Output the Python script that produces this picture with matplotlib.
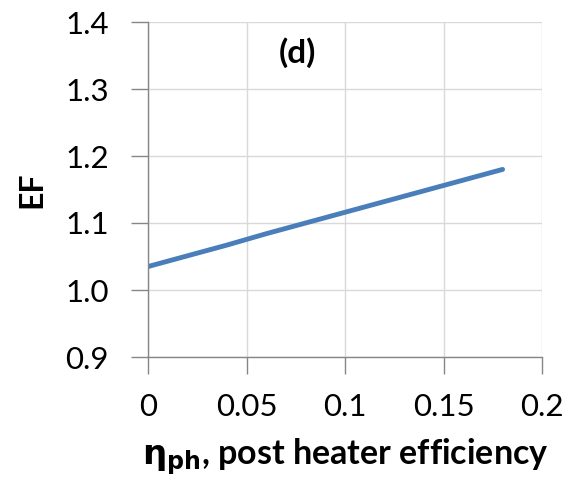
import matplotlib
matplotlib.use('Agg')
import matplotlib.pyplot as plt

#data
eta_ph = [0.0, 0.02, 0.04, 0.06, 0.08, 0.10, 0.12, 0.14, 0.16, 0.18]
ef = [1.035, 1.051, 1.067, 1.084, 1.100, 1.116, 1.132, 1.148, 1.164, 1.180]
x_ticks = [0, 0.05, 0.1, 0.15, 0.2]
x_labels = ['0', '0.05', '0.1', '0.15', '0.2']
y_ticks = [0.9, 1.0, 1.1, 1.2, 1.3, 1.4]
y_labels = ['0.9', '1.0', '1.1', '1.2', '1.3', '1.4']

plt.rcParams['font.family'] = ['Lato', 'DejaVu Sans']

fig = plt.figure(figsize=(5.68, 4.79), dpi=100)
ax = fig.add_axes([148/568, 1 - 357/479, 394/568, 335/479])

ax.plot(eta_ph, ef, color='#4a7ebb', linewidth=3.5, solid_capstyle='round')

ax.set_xlim(0, 0.2)
ax.set_ylim(0.9, 1.4)
ax.set_xticks(x_ticks)
ax.set_xticklabels(x_labels)
ax.set_yticks(y_ticks)
ax.set_yticklabels(y_labels)
ax.grid(True, color='#d9d9d9', linewidth=1)
ax.set_axisbelow(True)

for s in ['top', 'right']:
    ax.spines[s].set_visible(False)
for s in ['left', 'bottom']:
    ax.spines[s].set_color('#868686')
    ax.spines[s].set_linewidth(1)
ax.tick_params(axis='both', length=12, width=1, color='#868686', labelsize=22.5)
ax.tick_params(axis='x', pad=14)
ax.tick_params(axis='y', pad=16)

ax.set_ylabel('EF', fontsize=23, fontweight='bold', labelpad=14)
ax.set_xlabel(r'$\mathbf{\eta}_{\mathbf{ph}}$, post heater efficiency', fontsize=24.5,
              fontweight='bold', labelpad=11)
ax.text(0.0757, 1.354, '(d)', fontsize=24, fontweight='bold', ha='center', va='center')

plt.savefig('out.png', dpi=100)
